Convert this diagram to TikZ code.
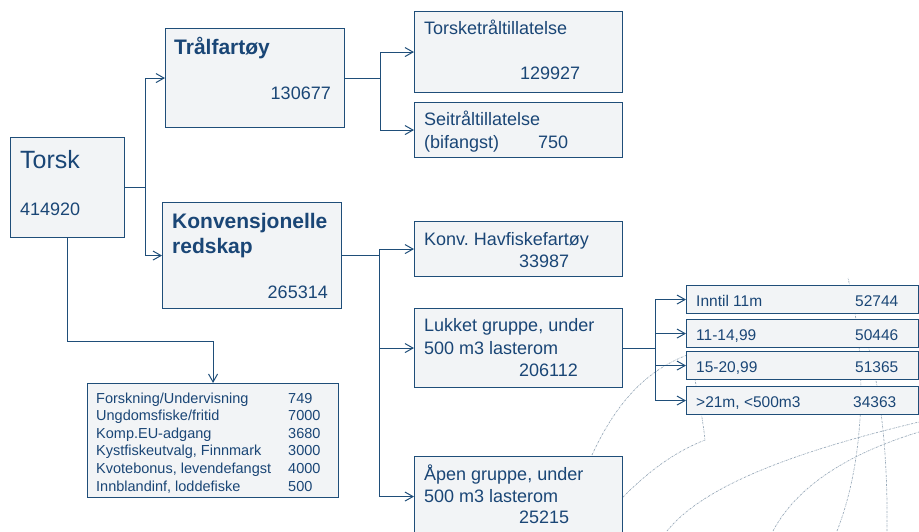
\documentclass[tikz,border=0pt]{standalone}
\usepackage{fontspec}
\setmainfont{Liberation Sans}
\usetikzlibrary{arrows.meta}
\definecolor{boxline}{HTML}{1F4E79}
\definecolor{boxfill}{HTML}{F2F4F6}
\definecolor{txtblue}{HTML}{1A4676}
\definecolor{globegray}{HTML}{98A9B9}
\frenchspacing

\begin{document}
\begin{tikzpicture}[x=1pt, y=-1pt,
    box/.style={draw=boxline, fill=boxfill, line width=1.1pt, inner sep=0pt, anchor=north west},
    txt/.style={anchor=base west, inner sep=0pt, text=txtblue, font=\fontsize{18}{22}\selectfont},
    num/.style={txt, anchor=base east},
    big/.style={txt, font=\fontsize{25}{30}\selectfont},
    head/.style={txt, font=\fontsize{21}{25}\selectfont\bfseries},
    small/.style={txt, font=\fontsize{15.5}{18}\selectfont},
    listtxt/.style={txt, font=\fontsize{14.5}{17}\selectfont},
    arr/.style={draw=boxline, line width=1pt, -{Straight Barb[length=8pt,width=9pt]}},
    meridian/.style={draw=globegray, line width=0.7pt, dash pattern=on 2pt off 1pt on 0.5pt off 1pt}]
  \useasboundingbox (0,0) rectangle (919,531);

  % globe lines in the background
  \draw[meridian] (592,455) .. controls (615,405) and (645,370) .. (690,354);
  \draw[meridian] (623,497) .. controls (655,465) and (680,450) .. (705,440) .. controls (703,420) and (698,395) .. (694,375);
  \draw[meridian] (667,531) .. controls (700,490) and (780,455) .. (919,422);
  \draw[meridian] (773,531) .. controls (800,480) and (860,450) .. (919,432);
  \draw[meridian] (837,531) .. controls (865,460) and (868,360) .. (848,278);
  \draw[meridian] (887,531) .. controls (888,450) and (880,390) .. (868,345);

  % boxes
  \node[box, minimum width=114pt, minimum height=100pt] (torsk) at (10,137) {};
  \node[box, minimum width=179pt, minimum height=99pt] (tral) at (165,28) {};
  \node[box, minimum width=179pt, minimum height=106pt] (konv) at (162,202) {};
  \node[box, minimum width=208pt, minimum height=81pt] (torsketral) at (414,11) {};
  \node[box, minimum width=208pt, minimum height=55pt] (seitral) at (414,102) {};
  \node[box, minimum width=208pt, minimum height=55pt] (havfisk) at (414,221) {};
  \node[box, minimum width=208pt, minimum height=79pt] (lukket) at (414,308) {};
  \node[box, minimum width=208pt, minimum height=80pt] (apen) at (414,456) {};
  \node[box, minimum width=251pt, minimum height=114pt] (list) at (87,383) {};

  % texts
  \node[big] (torsklbl) at (20,168) {Torsk};
  \node[txt] (torsknum) at (20,215) {414920};
  \node[head] (trallbl) at (174,54) {Trålfartøy};
  \node[num] (tralnum) at (331,99) {130677};
  \node[head] (konvlbl) at (172,228) {Konvensjonelle};
  \node[head] (konvlbl2) at (172,253) {redskap};
  \node[num] (konvnum) at (328,298) {265314};
  \node[txt] (torsketrallbl) at (424,34) {Torsketråltillatelse};
  \node[txt] (torsketralnum) at (520,79) {129927};
  \node[txt] (seitrallbl) at (424,125) {Seitråltillatelse};
  \node[txt] (seitrallbl2) at (424,148) {(bifangst)};
  \node[txt] (seitralnum) at (538,148) {750};
  \node[txt] (havfisklbl) at (424,245) {Konv. Havfiskefartøy};
  \node[txt] (havfisknum) at (519,267) {33987};
  \node[txt] (lukketlbl) at (424,331) {Lukket gruppe, under};
  \node[txt] (lukketlbl2) at (424,354) {500 m3 lasterom};
  \node[txt] (lukketnum) at (519,376) {206112};
  \node[txt] (apenlbl) at (424,480) {Åpen gruppe, under};
  \node[txt] (apenlbl2) at (424,502) {500 m3 lasterom};
  \node[txt] (apennum) at (519,523) {25215};

  % length groups
  \foreach \name/\lbl/\val/\top/\base/\numx in {inntil/Inntil 11m/52744/285/306/855,
      m11/11-14{,}99/50446/319/340/855, m15/15-20{,}99/51365/351/372/855,
      m21/{>21m, <500m3}/34363/386/407/853}{
    \node[box, minimum width=232pt, minimum height=28pt] (\name) at (686,\top) {};
    \node[small] (\name lbl) at (696,\base) {\lbl};
    \node[small] (\name num) at (\numx,\base) {\val};
    \draw[arr] (lukket.east) -- ++(32,0) |- (\name.west);
  }

  % other quota
  \foreach \lbl/\val [count=\i] in {{Forskning/Undervisning}/749, {Ungdomsfiske/fritid}/7000,
      Komp.EU-adgang/3680, {Kystfiskeutvalg, Finnmark}/3000,
      {Kvotebonus, levendefangst}/4000, {Innblandinf, loddefiske}/500}{
    \node[listtxt] (row\i) at (96,{403+17.6*(\i-1)}) {\lbl};
    \node[listtxt] (val\i) at (288,{403+17.6*(\i-1)}) {\val};
  }

  % connectors
  \draw[arr] (torsk.east) -- ++(20,0) |- (tral.west);
  \draw[arr] (torsk.east) -- ++(20,0) |- (konv.west);
  \draw[arr] (torsk.south) |- (list.north |- 0,341) -- (list.north);
  \draw[arr] (tral.east) -- ++(35,0) |- (torsketral.west);
  \draw[arr] (tral.east) -- ++(35,0) |- (seitral.west);
  \draw[arr] (konv.east) -- ++(37,0) |- (havfisk.west);
  \draw[arr] (konv.east) -- ++(37,0) |- (lukket.west);
  \draw[arr] (konv.east) -- ++(37,0) |- (apen.west);
\end{tikzpicture}
\end{document}
